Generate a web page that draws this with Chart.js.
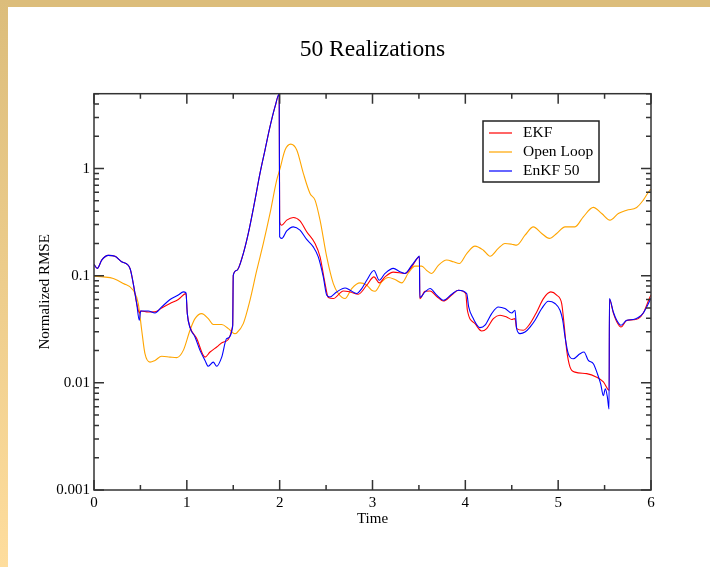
<!DOCTYPE html>
<html>
<head>
<meta charset="utf-8">
<script src="https://cdn.jsdelivr.net/npm/chart.js@4.4.0/dist/chart.umd.min.js"></script>
<style>
  html, body { margin: 0; padding: 0; background: #fff; }
  #wrap { position: relative; width: 710px; height: 567px; overflow: hidden; }
  #topbar { position: absolute; left: 0; top: 0; width: 710px; height: 7px; background: #dcbd7b; }
  #leftbar { position: absolute; left: 0; top: 0; width: 8px; height: 567px; background: linear-gradient(#dcbd7b, #fedd9d); }
  canvas { position: absolute; left: 0; top: 0; }
</style>
</head>
<body>
<div id="wrap">
  <div id="topbar"></div>
  <div id="leftbar"></div>
  <canvas id="chart" width="710" height="567"></canvas>
</div>
<script>
// EKF
const ekfTime = [0, 0.036, 0.083, 0.154, 0.226, 0.298, 0.388, 0.423, 0.46, 0.49, 0.503, 0.585, 0.657, 0.729, 0.819, 0.908, 0.991,
  1.005, 1.034, 1.105, 1.196, 1.25, 1.322, 1.393, 1.494, 1.5, 1.537, 1.608, 1.662, 1.734, 1.788, 1.842, 1.896, 1.95, 1.995,
  2.0, 2.022, 2.076, 2.147, 2.219, 2.291, 2.381, 2.435, 2.489, 2.524, 2.578, 2.686, 2.758, 2.847, 2.938, 3.016,
  3.073, 3.135, 3.224, 3.35, 3.422, 3.505, 3.51, 3.566, 3.62, 3.692, 3.763, 3.853, 3.924, 4.004, 4.022, 4.105, 4.176, 4.23,
  4.302, 4.373, 4.445, 4.5, 4.535, 4.553, 4.625, 4.697, 4.769, 4.841, 4.921, 4.984, 5.038, 5.063, 5.092, 5.127, 5.181,
  5.307, 5.415, 5.487, 5.55, 5.553, 5.594, 5.631, 5.677, 5.738, 5.81, 5.863, 5.917, 5.989, 6.0];
const ekfRmse = [0.128, 0.117, 0.140, 0.155, 0.152, 0.135, 0.117, 0.0845, 0.055, 0.045, 0.0469, 0.0459, 0.046, 0.050, 0.055, 0.060, 0.068,
  0.0443, 0.0332, 0.0261, 0.0174, 0.0194, 0.0216, 0.024, 0.0345, 0.101, 0.112, 0.161, 0.248, 0.508, 0.902, 1.49, 2.46, 3.78, 4.97,
  0.318, 0.296, 0.330, 0.350, 0.325, 0.257, 0.200, 0.150, 0.0845, 0.0626, 0.0612, 0.0721, 0.0706, 0.0672, 0.0815, 0.0975,
  0.0857, 0.0975, 0.108, 0.105, 0.121, 0.150, 0.061, 0.0715, 0.072, 0.064, 0.058, 0.066, 0.0732, 0.0682, 0.0476, 0.0357, 0.0305, 0.0321,
  0.0398, 0.0428, 0.0412, 0.039, 0.0398, 0.0321, 0.031, 0.0357, 0.0459, 0.0612, 0.0706, 0.0658, 0.055, 0.0357, 0.0201, 0.0141, 0.0126,
  0.0122, 0.0113, 0.0102, 0.0085, 0.060, 0.045, 0.0372, 0.0332, 0.0382, 0.0388, 0.0398, 0.0449, 0.0634, 0.066];

// Open Loop
const openTime = [0, 0.1, 0.208, 0.316, 0.423, 0.477, 0.514, 0.549, 0.603, 0.657, 0.729, 0.819, 0.891, 0.962, 1.034, 1.088, 1.16,
  1.231, 1.285, 1.376, 1.447, 1.519, 1.537, 1.608, 1.68, 1.753, 1.824, 1.896, 1.968, 2.004, 2.058, 2.119, 2.184, 2.255, 2.327,
  2.381, 2.435, 2.507, 2.578, 2.632, 2.704, 2.776, 2.866, 2.938, 2.991, 3.027, 3.099, 3.17, 3.242, 3.315, 3.386, 3.458, 3.53,
  3.584, 3.638, 3.709, 3.799, 3.871, 3.935, 4.015, 4.104, 4.194, 4.266, 4.355, 4.427, 4.5, 4.553, 4.643, 4.733, 4.823, 4.905,
  4.984, 5.074, 5.181, 5.271, 5.379, 5.469, 5.558, 5.648, 5.738, 5.846, 5.917, 5.989, 6.0];
const openRmse = [0.099, 0.0975, 0.0942, 0.0845, 0.0732, 0.055, 0.031, 0.0187, 0.0156, 0.0162, 0.0177, 0.0174, 0.0172, 0.0201, 0.031, 0.0398, 0.0443,
  0.0398, 0.035, 0.035, 0.0321, 0.0288, 0.0292, 0.0357, 0.059, 0.112, 0.2, 0.381, 0.781, 1.0, 1.49, 1.69, 1.49, 0.902, 0.586,
  0.508, 0.33, 0.15, 0.0845, 0.0682, 0.0612, 0.0759, 0.0857, 0.0815, 0.0732, 0.0716, 0.0875, 0.0962, 0.0921, 0.0857, 0.106, 0.123, 0.123,
  0.112, 0.105, 0.125, 0.14, 0.135, 0.13, 0.161, 0.189, 0.173, 0.152, 0.18, 0.2, 0.197, 0.193, 0.239, 0.286, 0.248, 0.223,
  0.248, 0.286, 0.286, 0.355, 0.434, 0.381, 0.33, 0.381, 0.409, 0.434, 0.508, 0.63, 0.64];

// EnKF 50
const enkfTime = [0, 0.036, 0.083, 0.154, 0.226, 0.298, 0.388, 0.423, 0.46, 0.488, 0.503, 0.585, 0.657, 0.729, 0.819, 0.908, 0.962, 0.991,
  1.005, 1.034, 1.088, 1.142, 1.196, 1.231, 1.285, 1.322, 1.376, 1.43, 1.494, 1.5, 1.537, 1.608, 1.662, 1.734, 1.788, 1.842, 1.896, 1.95, 1.995,
  2.0, 2.022, 2.076, 2.147, 2.219, 2.291, 2.362, 2.416, 2.47, 2.507, 2.542, 2.614, 2.704, 2.758, 2.83, 2.884, 2.938, 3.016,
  3.073, 3.135, 3.224, 3.296, 3.35, 3.422, 3.494, 3.505, 3.51, 3.566, 3.62, 3.692, 3.763, 3.853, 3.924, 4.015, 4.036, 4.086, 4.158, 4.212,
  4.284, 4.355, 4.427, 4.5, 4.535, 4.553, 4.589, 4.643, 4.697, 4.751, 4.823, 4.894, 4.966, 5.02, 5.049, 5.074, 5.109, 5.163, 5.235,
  5.278, 5.325, 5.379, 5.422, 5.458, 5.487, 5.508, 5.53, 5.548, 5.552, 5.594, 5.631, 5.677, 5.738, 5.81, 5.863, 5.917, 5.989, 6.0];
const enkfRmse = [0.128, 0.117, 0.140, 0.155, 0.152, 0.135, 0.117, 0.0845, 0.055, 0.0384, 0.0469, 0.0469, 0.0449, 0.0511, 0.0599, 0.066, 0.0706, 0.0691,
  0.0443, 0.0328, 0.0268, 0.0201, 0.0162, 0.0143, 0.0156, 0.0143, 0.0174, 0.0259, 0.0337, 0.101, 0.112, 0.161, 0.248, 0.508, 0.902, 1.49, 2.46, 3.78, 4.97,
  0.231, 0.223, 0.262, 0.286, 0.266, 0.218, 0.186, 0.150, 0.0975, 0.0658, 0.0634, 0.0706, 0.0769, 0.0732, 0.0682, 0.0759, 0.0908, 0.112,
  0.0908, 0.105, 0.117, 0.109, 0.105, 0.125, 0.150, 0.153, 0.0626, 0.0706, 0.0759, 0.0658, 0.059, 0.0672, 0.0732, 0.0682, 0.0511, 0.0398, 0.0328, 0.0345,
  0.0443, 0.0511, 0.0494, 0.0449, 0.0476, 0.0321, 0.0288, 0.0298, 0.0332, 0.0384, 0.0494, 0.0578, 0.055, 0.0476, 0.0384, 0.0268, 0.0187, 0.0168, 0.0187,
  0.0194, 0.0162, 0.0151, 0.0122, 0.0098, 0.0076, 0.0088, 0.0074, 0.0057, 0.0612, 0.0459, 0.0384, 0.0345, 0.0384, 0.039, 0.0407, 0.0449, 0.059, 0.062];

const yTickValues = [0.001, 0.01, 0.1, 1];

const points = (xs, ys) => xs.map((t, i) => ({ x: t, y: ys[i] }));
const serif = 'Liberation Serif';

// inward ticks on all four sides, plus the box
const frameTicks = {
  id: 'frameTicks',
  afterDatasetsDraw(chart) {
    const { ctx, chartArea: a, scales: { x, y } } = chart;
    ctx.save();
    ctx.strokeStyle = '#333';
    ctx.lineWidth = 1.5;
    ctx.strokeRect(a.left, a.top, a.right - a.left, a.bottom - a.top);
    ctx.beginPath();
    for (let i = 0; i <= (x.max - x.min) * 2; i++) {
      const t = x.min + i * 0.5;
      const px = x.getPixelForValue(t);
      const len = i % 2 === 0 ? 10 : 5;
      ctx.moveTo(px, a.bottom); ctx.lineTo(px, a.bottom - len);
      ctx.moveTo(px, a.top); ctx.lineTo(px, a.top + len);
    }
    for (let e = -3; e <= 0; e++) {
      for (let k = 1; k <= 9; k++) {
        const v = k * Math.pow(10, e);
        if (v > y.max * 1.0001) break;
        const py = y.getPixelForValue(v);
        const len = k === 1 ? 10 : 5;
        ctx.moveTo(a.left, py); ctx.lineTo(a.left + len, py);
        ctx.moveTo(a.right, py); ctx.lineTo(a.right - len, py);
      }
    }
    ctx.stroke();
    ctx.restore();
  },
  afterDraw(chart) {
    const { ctx } = chart;
    const bx = 483, by = 121, bw = 116, bh = 61;
    ctx.save();
    ctx.fillStyle = '#fff';
    ctx.fillRect(bx, by, bw, bh);
    ctx.strokeStyle = '#222';
    ctx.lineWidth = 1.5;
    ctx.strokeRect(bx, by, bw, bh);
    ctx.font = '15.5px "' + serif + '"';
    ctx.textBaseline = 'middle';
    ctx.fillStyle = '#000';
    chart.data.datasets.forEach((ds, i) => {
      const ly = by + 12 + i * 19;
      ctx.strokeStyle = ds.borderColor;
      ctx.lineWidth = 1.2;
      ctx.beginPath();
      ctx.moveTo(bx + 6, ly); ctx.lineTo(bx + 29, ly);
      ctx.stroke();
      ctx.fillText(ds.label, bx + 40, ly);
    });
    ctx.restore();
  }
};

new Chart(document.getElementById('chart'), {
  type: 'line',
  data: {
    datasets: [
      { label: 'EKF', data: points(ekfTime, ekfRmse), borderColor: '#ff0000', order: 1 },
      { label: 'Open Loop', data: points(openTime, openRmse), borderColor: '#ffa500', order: 2 },
      { label: 'EnKF 50', data: points(enkfTime, enkfRmse), borderColor: '#0000ff', order: 0 },
    ],
  },
  options: {
    responsive: false,
    animation: false,
    devicePixelRatio: 1,
    parsing: false,
    elements: {
      point: { radius: 0 },
      line: { borderWidth: 1.1, cubicInterpolationMode: 'monotone', fill: false },
    },
    layout: { padding: { left: 36, right: 59, top: 0, bottom: 39 } },
    plugins: {
      legend: { display: false },
      tooltip: { enabled: false },
      title: {
        display: true,
        fullSize: false,
        text: '50 Realizations',
        color: '#000',
        font: { family: serif, size: 23.5, weight: 'normal' },
        padding: { top: 36, bottom: 29.5 },
      },
    },
    scales: {
      x: {
        type: 'linear',
        min: 0,
        max: 6,
        grid: { display: false, drawTicks: false },
        border: { display: false },
        ticks: { stepSize: 1, padding: 4, color: '#000', font: { family: serif, size: 15 } },
        title: { display: true, text: 'Time', color: '#000', padding: { top: 0, bottom: 0 }, font: { family: serif, size: 15 } },
        afterFit: (scale) => { scale.height = 38; },
      },
      y: {
        type: 'logarithmic',
        min: 0.001,
        max: 5,
        grid: { display: false, drawTicks: false },
        border: { display: false },
        afterBuildTicks: (scale) => { scale.ticks = yTickValues.map((v) => ({ value: v })); },
        ticks: {
          padding: 4,
          color: '#000',
          font: { family: serif, size: 15 },
          callback: (v) => String(v),
        },
        title: { display: true, text: 'Normalized RMSE', color: '#000', padding: { top: 0, bottom: 0 }, font: { family: serif, size: 15 } },
        afterFit: (scale) => { scale.width = 58; },
      },
    },
  },
  plugins: [frameTicks],
});
</script>
</body>
</html>
